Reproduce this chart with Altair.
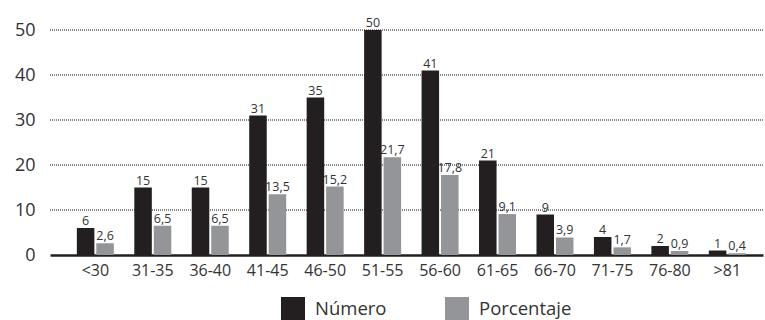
import altair as alt
import pandas as pd

categories = ["<30", "31-35", "36-40", "41-45", "46-50", "51-55", "56-60", "61-65", "66-70", "71-75", "76-80", ">81"]
numero = [6, 15, 15, 31, 35, 50, 41, 21, 9, 4, 2, 1]
porcentaje = [2.6, 6.5, 6.5, 13.5, 15.2, 21.7, 17.8, 9.1, 3.9, 1.7, 0.9, 0.4]
series = ["Número", "Porcentaje"]
colors = ["#231f20", "#939598"]
grid_values = [10, 20, 30, 40, 50]

rows = []
for c, n, p in zip(categories, numero, porcentaje):
    rows.append({"cat": c, "serie": series[0], "val": n, "lab": str(n)})
    rows.append({"cat": c, "serie": series[1], "val": p, "lab": f"{p:.1f}".replace(".", ",")})
df = pd.DataFrame(rows)
gdf = pd.DataFrame({"val": grid_values})

FONT = "Open Sans, sans-serif"

xscale = alt.Scale(paddingInner=0.356, paddingOuter=0.383, align=0.61)
xaxis = alt.Axis(labelAngle=0, labelFontSize=16, labelColor="#333333", labelFont=FONT,
                 ticks=False, domainColor="#231f20", domainWidth=2.5, labelPadding=7, grid=False)
yaxis = alt.Axis(values=[0, 10, 20, 30, 40, 50], labelFontSize=18, labelColor="#333333",
                 labelFont=FONT, ticks=False, domain=False, labelPadding=15, grid=False)
yscale = alt.Scale(domain=[0, 50], nice=False)

x = alt.X("cat:N", sort=categories, title=None, scale=xscale, axis=xaxis)
xo = alt.XOffset("serie:N", sort=series, scale=alt.Scale(paddingInner=0.1))
y = alt.Y("val:Q", title=None, scale=yscale, axis=yaxis)

grid = alt.Chart(gdf).mark_rule(color="#111111", strokeDash=[1, 1], strokeWidth=1).encode(
    y=y, x=alt.value(0), x2=alt.value(713)
)

bars = alt.Chart(df).mark_bar().encode(
    x=x, xOffset=xo, y=y,
    color=alt.Color("serie:N", sort=series, title=None,
                    scale=alt.Scale(domain=series, range=colors),
                    legend=alt.Legend(orient="none", legendX=231, legendY=267, direction="horizontal",
                                      symbolType="square", symbolSize=576, symbolStrokeWidth=0,
                                      labelFontSize=18.5, labelFont=FONT, labelColor="#333333",
                                      columnPadding=58, labelOffset=10)),
)

text = alt.Chart(df).mark_text(dy=-7, fontSize=12.5, color="#333333", font=FONT).encode(
    x=x, xOffset=xo, y=y, text="lab:N",
)

chart = (grid + bars + text).properties(
    width=713, height=225,
    autosize=alt.AutoSizeParams(type="none"),
    padding={"left": 50, "top": 30, "right": 2, "bottom": 65},
    background="white",
).configure_view(stroke=None, strokeWidth=0)

chart.save("out.html", embed_options={"renderer": "svg", "actions": False})
